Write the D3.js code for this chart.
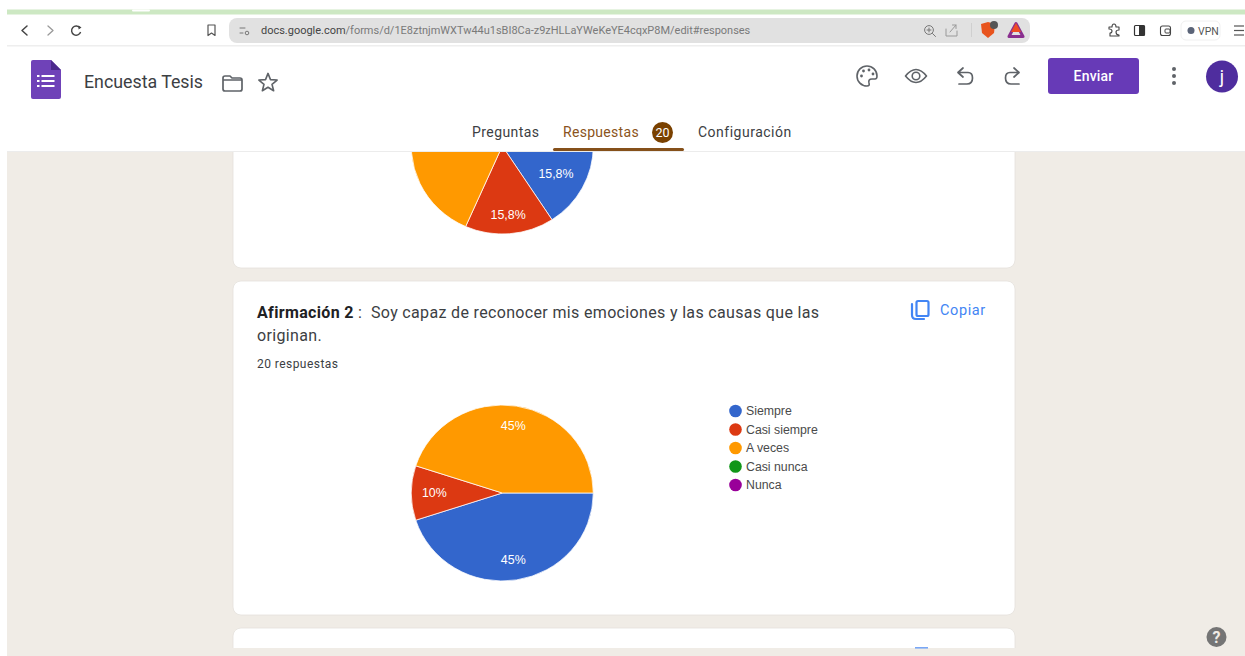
<!DOCTYPE html>
<html lang="es">
<head>
<meta charset="utf-8">
<title>Encuesta Tesis</title>
<script src="https://cdn.jsdelivr.net/npm/d3@7/dist/d3.min.js"></script>
<style>
  html, body { margin: 0; padding: 0; background: #fff; overflow: hidden; }
  svg { display: block; }
  text { font-family: Roboto, "Noto Sans", sans-serif; }
</style>
</head>
<body>
<svg id="page" width="1245" height="656"></svg>
<script>
// Response options, shared by both summaries
const categories = ["Siempre", "Casi siempre", "A veces", "Casi nunca", "Nunca"];
const categoryColors = ["#3366cc", "#dc3912", "#ff9900", "#109618", "#990099"];

// Percent of responses per option
const previousQuestionValues = [15.8, 15.8, 68.4, 0, 0];
const previousQuestionLabels = ["15,8%", "15,8%", "", "", ""];
const questionTwoValues = [45, 10, 45, 0, 0];
const questionTwoLabels = ["45%", "10%", "45%", "", ""];

const svg = d3.select("#page");
const BG = "#f0ece6", INK = "#202124", GREY = "#5f6368", BROWN = "#7a4100", PURPLE = "#673ab7", LINK = "#4285f4";

function rect(parent, x, y, w, h, fill, rx) {
  return parent.append("rect").attr("x", x).attr("y", y).attr("width", w).attr("height", h)
    .attr("fill", fill).attr("rx", rx || 0);
}
function label(parent, x, y, str, size, fill, opts = {}) {
  return parent.append("text").attr("x", x).attr("y", y).text(str)
    .attr("font-size", size).attr("fill", fill)
    .attr("font-weight", opts.weight || 400)
    .attr("text-anchor", opts.anchor || "start")
    .attr("letter-spacing", opts.spacing || 0);
}
function stroke(parent, d, color, width) {
  return parent.append("path").attr("d", d).attr("fill", "none")
    .attr("stroke", color).attr("stroke-width", width || 1.5)
    .attr("stroke-linecap", "round").attr("stroke-linejoin", "round");
}

// Page background and response cards
rect(svg, 7, 150, 1238, 506, BG);
const card = (y, h) => rect(svg, 233, y, 782, h, "#fff", 8).attr("stroke", "#e4e1dc").attr("stroke-width", 0.8);
card(120, 148);
card(281, 334);
card(628, 40);
rect(svg, 0, 648, 1245, 8, BG);
rect(svg, 0, 0, 7, 656, "#fff");

// Pie summaries: slices begin at three o'clock and run clockwise.
// The page is slightly wider than tall, so pies are squashed vertically.
const pieLayout = d3.pie().sort(null).value(d => d).startAngle(Math.PI / 2).endAngle(Math.PI * 2.5);
const radius = 91;
const squash = 88 / 91;
const arc = d3.arc().innerRadius(0).outerRadius(radius);

function drawPie(cx, cy, values, labels, labelRadii) {
  const g = svg.append("g").attr("transform", `translate(${cx},${cy})`);
  const arcs = pieLayout(values).filter(d => d.value > 0);
  g.append("g").attr("transform", `scale(1,${squash})`)
    .selectAll("path").data(arcs).join("path")
    .attr("d", arc)
    .attr("fill", d => categoryColors[d.index])
    .attr("stroke", "#fff").attr("stroke-width", 0.9).attr("stroke-opacity", 0.85);
  g.selectAll("text").data(arcs).join("text")
    .attr("transform", d => {
      const r = labelRadii[d.index];
      const [x, y] = d3.arc().innerRadius(r).outerRadius(r).centroid(d);
      return `translate(${x},${y * squash})`;
    })
    .attr("dy", "0.35em").attr("text-anchor", "middle")
    .attr("font-size", 12.4).attr("fill", "#fff")
    .style("font-family", "Arial, 'Liberation Sans', sans-serif")
    .text(d => labels[d.index]);
}
drawPie(502.3, 146, previousQuestionValues, previousQuestionLabels, [61, 71, 65]);
drawPie(502.3, 493, questionTwoValues, questionTwoLabels, [70, 68, 70]);

// Question heading
const title = svg.append("text").attr("x", 257).attr("y", 318).attr("font-size", 16).attr("fill", "#3c4043").attr("letter-spacing", 0.34);
title.append("tspan").attr("font-weight", 700).attr("fill", INK).text("Afirmación 2");
title.append("tspan").attr("xml:space", "preserve").text(" :  Soy capaz de reconocer mis emociones y las causas que las");
label(svg, 257, 341, "originan.", 16, "#3c4043", { spacing: 0.34 });
label(svg, 257, 368, "20 respuestas", 12, "#3c4043", { spacing: 0.45 });

// Copy control
const copy = svg.append("g").attr("transform", "translate(911,300)");
stroke(copy, "M1 4 V15 Q1 19 5 19 H13", LINK, 2.2);
copy.append("rect").attr("x", 5.5).attr("y", 1).attr("width", 12).attr("height", 15).attr("rx", 1.5)
  .attr("fill", "none").attr("stroke", LINK).attr("stroke-width", 2.2);
label(svg, 940, 315, "Copiar", 14.5, LINK, { weight: 400, spacing: 0.6 });
rect(svg, 915, 647, 13, 1.6, "#7aa7f5");

// Legend
const legendY = d3.scalePoint().domain(categories).range([411, 485]);
const legend = svg.append("g").selectAll("g").data(categories).join("g")
  .attr("transform", d => `translate(735.5,${legendY(d)})`);
legend.append("circle").attr("r", 6.3).attr("fill", (d, i) => categoryColors[i]);
legend.append("text").attr("x", 10.5).attr("dy", "0.35em").attr("font-size", 12.3)
  .attr("fill", "#4a4a4a").style("font-family", "Arial, 'Liberation Sans', sans-serif").text(d => d);

// Help button
svg.append("circle").attr("cx", 1216.5).attr("cy", 637).attr("r", 10).attr("fill", "#757575");
label(svg, 1216.5, 642.5, "?", 16, "#efebe5", { weight: 700, anchor: "middle" });

// Forms header
rect(svg, 7, 47, 1238, 104, "#fff");
rect(svg, 7, 151, 1238, 1, "#ececec");
const logo = svg.append("g").attr("transform", "translate(31,60)");
logo.append("path").attr("d", "M2 0 H20 L30 10 V37 Q30 39 28 39 H2 Q0 39 0 37 V2 Q0 0 2 0 Z").attr("fill", "#6f42b8");
logo.append("path").attr("d", "M20 0 L30 10 H20 Z").attr("fill", "#4c2a8c");
[16, 21, 26].forEach(y => {
  rect(logo, 6, y - 1, 2.5, 2, "#fff");
  rect(logo, 10.5, y - 1, 13, 2, "#fff");
});
label(svg, 84, 88, "Encuesta Tesis", 17.8, "#3c4043");

const folder = svg.append("g").attr("transform", "translate(222,75)");
stroke(folder, "M1 3 Q1 1 3 1 H8 L10 3 H18 Q20 3 20 5 V14 Q20 16 18 16 H3 Q1 16 1 14 Z M1 5 H20", GREY, 1.7);
const star = d3.range(10).map(i => {
  const r = i % 2 ? 4.2 : 9.6, a = i * Math.PI / 5;
  return [r * Math.sin(a), -r * Math.cos(a)];
});
stroke(svg.append("g").attr("transform", "translate(268,83)"), d3.line()(star) + "Z", GREY, 1.6);

// Right-hand header actions
const palette = svg.append("g").attr("transform", "translate(867,76)");
stroke(palette, "M0 -10 A10 10 0 1 0 0 10 Q3 10 2 7 Q1 3 5 3 H8 Q10 3 10 0 A10 10 0 0 0 0 -10 Z", GREY, 1.6);
[[-5.5, 0], [-3.5, -5], [2, -6], [6, -2]].forEach(([x, y]) => palette.append("circle").attr("cx", x).attr("cy", y).attr("r", 1.4).attr("fill", GREY));
const eye = svg.append("g").attr("transform", "translate(916,76)");
stroke(eye, "M-10.5 0 Q0 -13 10.5 0 Q0 13 -10.5 0 Z", GREY, 1.6);
eye.append("circle").attr("r", 3.8).attr("fill", "none").attr("stroke", GREY).attr("stroke-width", 1.6);
stroke(svg, "M963 68 L958 72.5 L963 77 M958 72.5 H968 Q972.5 72.5 972.5 78 Q972.5 84 967 84 H959", GREY, 1.7);
stroke(svg, "M1014 68 L1019 72.5 L1014 77 M1019 72.5 H1010 Q1005.5 72.5 1005.5 78 Q1005.5 84 1011 84 H1019", GREY, 1.7);
rect(svg, 1048, 58, 91, 36, PURPLE, 3);
label(svg, 1093.5, 81, "Enviar", 14, "#fff", { weight: 500, anchor: "middle", spacing: 0.2 });
[69, 76, 83].forEach(y => svg.append("circle").attr("cx", 1174).attr("cy", y).attr("r", 2).attr("fill", GREY));
svg.append("circle").attr("cx", 1222).attr("cy", 76.5).attr("r", 16).attr("fill", "#4f2d9e");
label(svg, 1222, 83, "j", 18, "#fff", { anchor: "middle" });

// Tabs
label(svg, 472, 137, "Preguntas", 14, "#3c4043", { spacing: 0.42 });
label(svg, 563, 137, "Respuestas", 14, "#8a5320", { spacing: 0.3 });
svg.append("circle").attr("cx", 662.5).attr("cy", 132.5).attr("r", 10.5).attr("fill", BROWN);
label(svg, 662.5, 137, "20", 12.5, "#fff", { anchor: "middle" });
label(svg, 698, 137, "Configuración", 14, "#3c4043", { spacing: 0.5 });
rect(svg, 553, 148, 131, 3, "#85501a", 1.5);

// Browser toolbar
rect(svg, 0, 0, 1245, 47, "#fff");
rect(svg, 7, 9.5, 1238, 5, "#cde8c3");
rect(svg, 132, 9.5, 18, 2, "#fff", 1);
rect(svg, 7, 45, 1238, 1.5, "#eeeeee");
stroke(svg, "M27 26 L22 30.5 L27 35", "#444", 1.5);
stroke(svg, "M48 26 L53 30.5 L48 35", "#999", 1.3);
svg.append("path").attr("d", "M80 28 A4.6 4.6 0 1 0 80.6 32").attr("fill", "none").attr("stroke", "#444").attr("stroke-width", 1.4);
svg.append("path").attr("d", "M78.5 25.5 L81.5 27.5 L78.5 29.5 Z").attr("fill", "#444");
stroke(svg, "M208 25 H215 V35.5 L211.5 33 L208 35.5 Z", "#555", 1.2);
rect(svg, 229, 18, 801, 25, "#e1e1e1", 8);
stroke(svg, "M240 28 H245 M240 33 H243", "#777", 1);
svg.append("circle").attr("cx", 247).attr("cy", 33).attr("r", 1.8).attr("fill", "none").attr("stroke", "#777");
const url = svg.append("text").attr("x", 261).attr("y", 34).attr("font-size", 10.97).attr("fill", "#7a7a7a");
url.append("tspan").attr("fill", "#444").text("docs.google.com");
url.append("tspan").text("/forms/d/1E8ztnjmWXTw44u1sBI8Ca-z9zHLLaYWeKeYE4cqxP8M/edit#responses");

svg.append("circle").attr("cx", 929).attr("cy", 30).attr("r", 4.4).attr("fill", "none").attr("stroke", "#777");
stroke(svg, "M932.5 33.5 L935.5 36.5 M927 30 H931 M929 28 V32", "#777", 1);
stroke(svg, "M946 29 V36 H957 V31 M950 32 L956 25 M952.5 25 H956 V28.5", "#999", 1);
rect(svg, 971, 23, 1, 14, "#cfcfcf");
svg.append("path").attr("d", "M981 24 L988 22 L995 24 L994 33 L988 38 L982 33 Z").attr("fill", "#e8541e");
svg.append("circle").attr("cx", 994).attr("cy", 25).attr("r", 4).attr("fill", "#555");
svg.append("path").attr("d", "M1016 23.5 L1023 36.5 H1009 Z").attr("fill", "none").attr("stroke", "#8a2f8f").attr("stroke-width", 3).attr("stroke-linejoin", "round");
svg.append("path").attr("d", "M1016 23 L1021 32 H1011 Z").attr("fill", "#ef4d23");

stroke(svg, "M1109 27 H1112 Q1112 24 1114 24 Q1116 24 1116 27 H1119 V30 Q1116 30 1116 32 Q1116 35 1119 35 V36 H1110 V33 Q1112 33 1112 31 Q1112 29 1109 29 Z", "#444", 1.1);
rect(svg, 1134.5, 25.5, 10, 10, "none", 1).attr("stroke", "#333").attr("stroke-width", 1.2);
rect(svg, 1139, 25.5, 5.5, 10, "#333");
rect(svg, 1160.5, 26, 10, 9.5, "none", 2).attr("stroke", "#444").attr("stroke-width", 1.1);
rect(svg, 1165, 29, 5, 4, "none", 1).attr("stroke", "#444").attr("stroke-width", 1);
rect(svg, 1181, 21, 39, 19, "#fff", 5).attr("stroke", "#f0f0f0");
svg.append("circle").attr("cx", 1191).attr("cy", 30.5).attr("r", 3.5).attr("fill", "#5b6478");
label(svg, 1198, 34.5, "VPN", 10.5, "#555");
[26, 30.5, 35].forEach(y => rect(svg, 1234, y - 0.6, 10, 1.2, "#555"));
</script>
</body>
</html>
